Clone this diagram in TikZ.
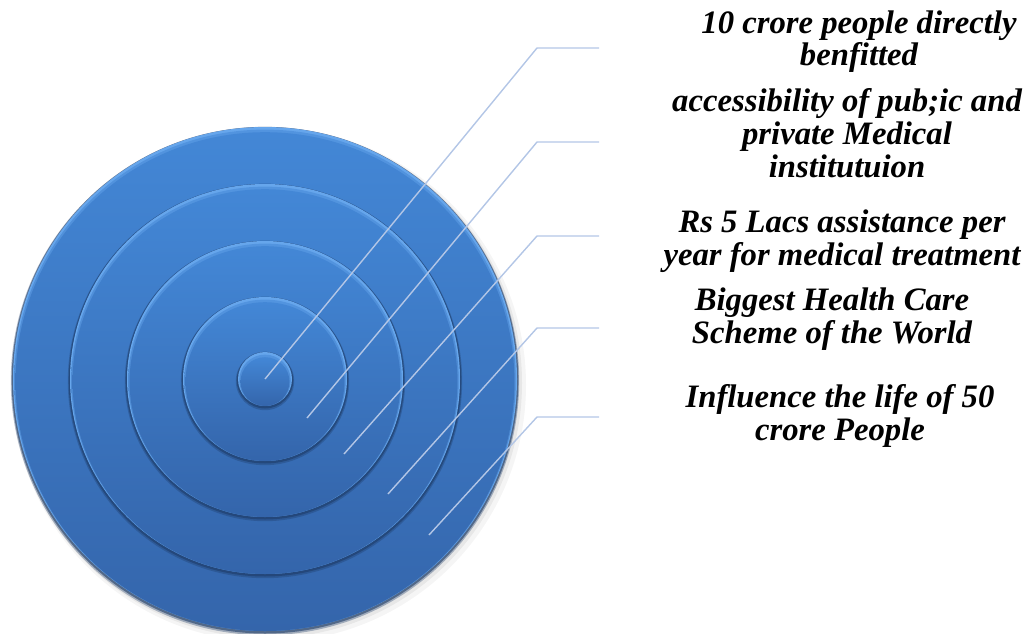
\documentclass[tikz,border=0pt]{standalone}
\usepackage{fontspec}
\setmainfont{Liberation Serif}
\definecolor{topc}{HTML}{4387D6}
\definecolor{botc}{HTML}{3465AB}
\definecolor{hilite}{HTML}{66A6EC}
\definecolor{edgec}{HTML}{1E3C68}
\definecolor{leadc}{HTML}{B3C6E6}
\tikzset{
  leader/.style={draw=leadc, line width=1.4pt, line join=miter},
  lbl/.style={font=\fontsize{32.7}{32.7}\selectfont\bfseries\itshape, align=center, inner sep=0pt, text=black},
}
\newcommand\ringdisk[1]{%
  \fill[edgec, opacity=.35] (265,381) circle ({#1+2.2});
  \fill[edgec, opacity=.6] (265,380.2) circle ({#1+1.3});
  \fill[hilite] (265,379) circle (#1);
  \shade[top color=topc, bottom color=botc, opacity=.55] (265,380.3) circle ({#1-1.3});
  \shade[top color=topc, bottom color=botc] (265,381.6) circle ({#1-2.6});
}
\begin{document}
\begin{tikzpicture}[x=1pt,y=-1pt]
\useasboundingbox (0,0) rectangle (1028,634);
% soft drop shadow of the whole target
\fill[black, opacity=.04] (269,385) circle (257);
\fill[black, opacity=.06] (267,383) circle (255);
% concentric discs
\ringdisk{252}
\ringdisk{195}
\ringdisk{138}
\ringdisk{82}
\ringdisk{27}
% anchor points
\coordinate (p1) at (265,379);
\coordinate (p2) at (307,418);
\coordinate (p3) at (344,454);
\coordinate (p4) at (388,494);
\coordinate (p5) at (429,535);
\coordinate (e1) at (537,48);
\coordinate (e2) at (537,142);
\coordinate (e3) at (537,236);
\coordinate (e4) at (537,328);
\coordinate (e5) at (537,417);
\coordinate (h1) at (599,48);
\coordinate (h2) at (599,142);
\coordinate (h3) at (599,236);
\coordinate (h4) at (599,328);
\coordinate (h5) at (599,417);
% leaders
\draw[leader] (p1) -- (e1) -- (h1);
\draw[leader] (p2) -- (e2) -- (h2);
\draw[leader] (p3) -- (e3) -- (h3);
\draw[leader] (p4) -- (e4) -- (h4);
\draw[leader] (p5) -- (e5) -- (h5);
% labels (base anchor = baseline of the last line)
\node[lbl, anchor=base] (t1) at (859,66) {10 crore people directly\\benfitted};
\node[lbl, anchor=base] (t2) at (847,177) {accessibility of pub;ic and\\private Medical\\institutuion};
\node[lbl, anchor=base] (t3) at (842,265) {Rs 5 Lacs assistance per\\year for medical treatment};
\node[lbl, anchor=base] (t4) at (832,343) {Biggest Health Care\\Scheme of the World};
\node[lbl, anchor=base] (t5) at (840,440) {Influence the life of 50\\crore People};
\end{tikzpicture}
\end{document}
